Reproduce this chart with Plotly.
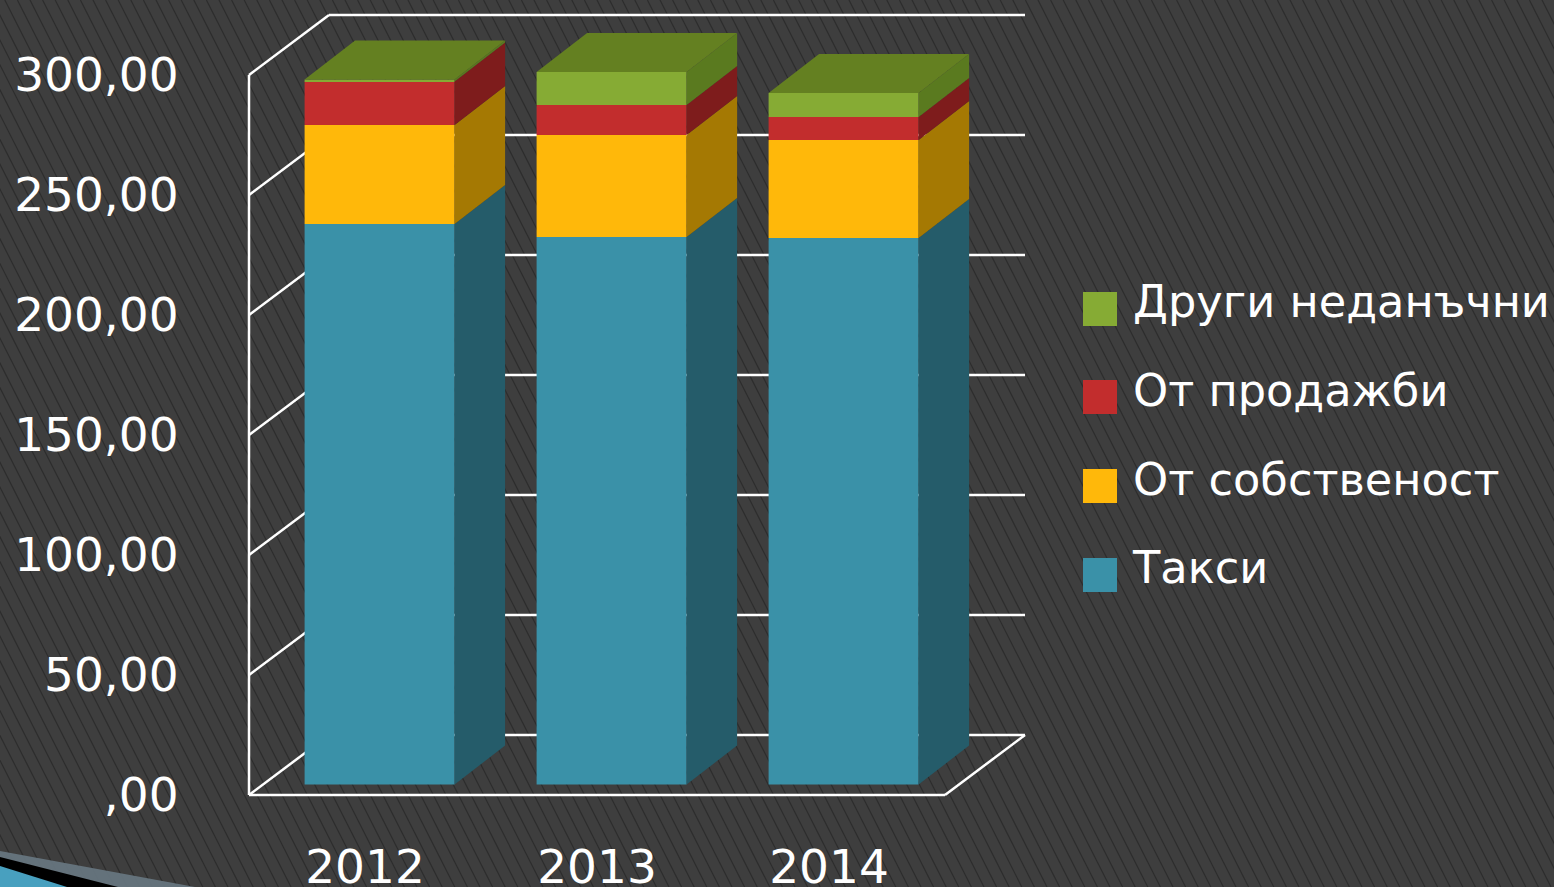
import base64
import plotly.graph_objects as go

years = ["2012", "2013", "2014"]
taksi = [233.5, 228.1, 227.7]
sobstvenost = [41.3, 42.5, 40.8]
prodazhbi = [18.1, 12.5, 9.6]
drugi = [0.8, 13.8, 10.0]
y_ticks = [0, 50, 100, 150, 200, 250, 300]
y_labels = [",00", "50,00", "100,00", "150,00", "200,00", "250,00", "300,00"]

names = ["Такси", "От собственост", "От продажби", "Други неданъчни"]
series = [taksi, sobstvenost, prodazhbi, drugi]
front = ["#3a91a8", "#ffb80a", "#c22d2d", "#86ab34"]
side = ["#255c6a", "#a57903", "#7e1c1c", "#5a7a1f"]
top_col = "#648021"

PX_X = 232.0
PX_Y = 2.4
x_of = lambda px: (px - 365) / PX_X
y_of = lambda px: (795 - px) / PX_Y
WALL_DX, WALL_DY = 80 / PX_X, 60 / PX_Y
BAR_W = 150 / PX_X
BAR_SHIFT = 14.6 / PX_X
BASE_DY = 10.5 / PX_Y
SIDE_DX, SIDE_DY = 50.5 / PX_X, 39 / PX_Y

W, H = 1554, 887
ML, MR, MT, MB = 245, 0, 11, 88
stripes = "".join(
    f'<line x1="{-600 + k * 12.6:.1f}" y1="0" x2="{-600 + k * 12.6 + 450:.1f}" y2="{H}" stroke="#2d2d2d" stroke-width="1.2"/>'
    for k in range(175)
)
svg = (
    f'<svg xmlns="http://www.w3.org/2000/svg" width="{W}" height="{H}" viewBox="0 0 {W} {H}">'
    f'<rect width="{W}" height="{H}" fill="#3e3e3e"/>'
    f'{stripes}'
    '<polygon points="0,851 195,887 0,887" fill="#66757e" opacity="0.95"/>'
    '<polygon points="0,857 118,887 0,887" fill="#000"/>'
    '<polygon points="0,866 67,887 0,887" fill="#4aa5c5" opacity="0.97"/>'
    '</svg>'
)
bg = "data:image/svg+xml;base64," + base64.b64encode(svg.encode()).decode()

fig = go.Figure()
x_left = x_of(249)
x_floor = x_of(945)
line = dict(color="white", width=2.5)
shapes = []
def seg(x0, y0, x1, y1):
    shapes.append(dict(type="line", xref="x", yref="y", x0=x0, y0=y0, x1=x1, y1=y1,
                       line=line, layer="below"))
for v in y_ticks:
    seg(x_left, v, x_left + WALL_DX, v + WALL_DY)
    seg(x_left + WALL_DX, v + WALL_DY, x_floor + WALL_DX, v + WALL_DY)
seg(x_left, 0, x_left, y_ticks[-1])
seg(x_left, 0, x_floor, 0)
seg(x_floor, 0, x_floor + WALL_DX, WALL_DY)

xs = [i + BAR_SHIFT for i in range(len(years))]
bottoms = [BASE_DY] * len(years)
for name, vals, fc, sc in zip(names, series, front, side):
    fig.add_trace(go.Bar(x=xs, y=vals, base=bottoms, width=BAR_W, name=name,
                         marker=dict(color=fc, line=dict(width=0)), showlegend=False))
    for i, (b, v) in enumerate(zip(bottoms, vals)):
        xr = xs[i] + BAR_W / 2
        t = b + v
        fig.add_trace(go.Scatter(
            x=[xr, xr + SIDE_DX, xr + SIDE_DX, xr, xr],
            y=[b, b + SIDE_DY, t + SIDE_DY, t, b],
            mode="lines", fill="toself", fillcolor=sc, line=dict(width=0),
            showlegend=False, hoverinfo="skip"))
    bottoms = [b + v for b, v in zip(bottoms, vals)]

for i, t in enumerate(bottoms):
    xl = xs[i] - BAR_W / 2
    xr = xs[i] + BAR_W / 2
    fig.add_trace(go.Scatter(
        x=[xl, xr, xr + SIDE_DX, xl + SIDE_DX, xl],
        y=[t, t, t + SIDE_DY, t + SIDE_DY, t],
        mode="lines", fill="toself", fillcolor=top_col, line=dict(width=0),
        showlegend=False, hoverinfo="skip"))

legend_swatch_y = [y_of(575), y_of(486), y_of(397), y_of(309)]
legend_text_y = [y_of(572), y_of(484), y_of(395), y_of(306)]
fig.add_trace(go.Scatter(
    x=[x_of(1100)] * 4, y=legend_swatch_y, mode="markers",
    marker=dict(symbol="square", size=34, color=front, line=dict(width=0)),
    showlegend=False, hoverinfo="skip", cliponaxis=False))
fig.add_trace(go.Scatter(
    x=[x_of(1133)] * 4, y=legend_text_y, mode="text", text=names,
    textposition="middle right", textfont=dict(size=44.7, color="white", family="DejaVu Sans"),
    showlegend=False, hoverinfo="skip", cliponaxis=False))

fig.update_layout(
    width=W, height=H, margin=dict(l=ML, r=MR, t=MT, b=MB, autoexpand=False),
    paper_bgcolor="#3e3e3e", plot_bgcolor="rgba(0,0,0,0)",
    barmode="overlay", showlegend=False, shapes=shapes,
    font=dict(family="DejaVu Sans", size=47, color="white"),
    images=[dict(source=bg, xref="paper", yref="paper",
                 x=-ML / (W - ML - MR), y=(H - MB) / (H - MB - MT),
                 sizex=W / (W - ML - MR), sizey=H / (H - MB - MT),
                 xanchor="left", yanchor="top", sizing="stretch", layer="below")],
    xaxis=dict(range=[x_of(ML), x_of(W)], tickmode="array", tickvals=[0, 1, 2], ticktext=years,
               showgrid=False, zeroline=False, showline=False, ticks="outside",
               ticklen=27, tickcolor="rgba(0,0,0,0)"),
    yaxis=dict(range=[y_of(H - MB), y_of(MT)], tickmode="array", tickvals=y_ticks, ticktext=y_labels,
               showgrid=False, zeroline=False, showline=False, ticks="outside",
               ticklen=56, tickcolor="rgba(0,0,0,0)"),
)
fig.write_html("out.html", config=dict(displayModeBar=False),
               post_script="document.body.style.margin='0';document.documentElement.style.overflow='hidden';")
